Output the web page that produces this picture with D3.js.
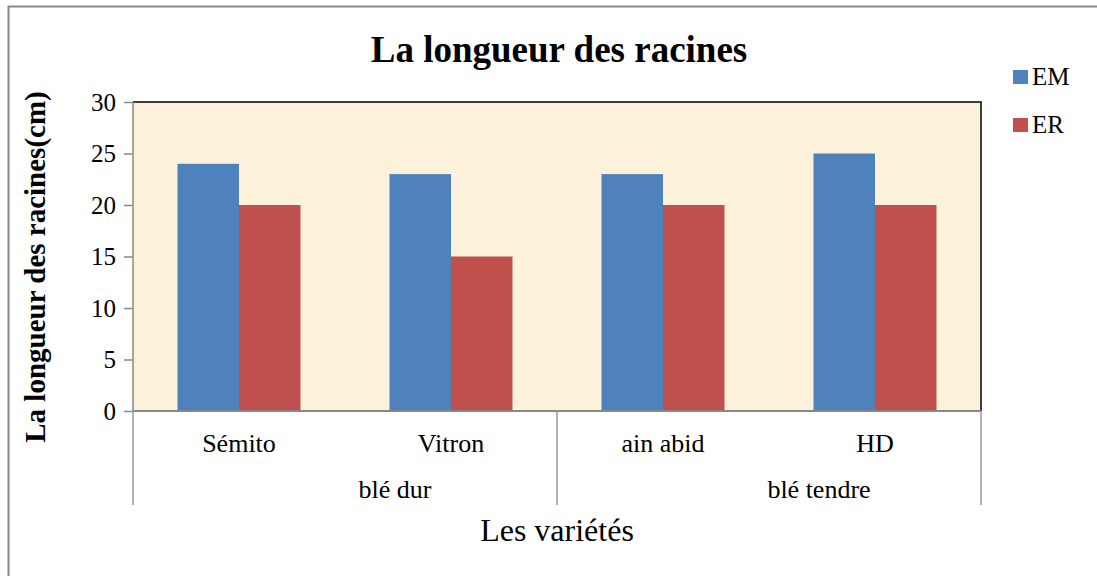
<!DOCTYPE html>
<html lang="fr">
<head>
  <meta charset="UTF-8">
  <title>La longueur des racines</title>
  <script src="https://d3js.org/d3.v7.min.js"></script>
  <style>
    body { margin: 0; background: #fff; }
    svg text { font-family: "Liberation Serif", "Times New Roman", serif; fill: #000; }
  </style>
</head>
<body>
  <div id="chart"></div>
  <script>
    const varietes = ["Sémito", "Vitron", "ain abid", "HD"];
    const groupes = ["blé dur", "blé dur", "blé tendre", "blé tendre"];
    const series = ["EM", "ER"];
    const emValues = [24, 23, 23, 25];
    const erValues = [20, 15, 20, 20];
    const yTicks = [0, 5, 10, 15, 20, 25, 30];
    const colors = ["#4f81bd", "#c0504d"];

    const W = 1097, H = 576;
    const plot = { left: 133, top: 102, right: 981, bottom: 411 };

    const svg = d3.select("#chart").append("svg")
      .attr("width", W).attr("height", H);

    // outer frame (right/bottom edges fall outside the picture)
    svg.append("rect")
      .attr("x", 8.5).attr("y", 6.5)
      .attr("width", W + 20).attr("height", H + 20)
      .attr("fill", "#fff").attr("stroke", "#888").attr("stroke-width", 2);

    const x0 = d3.scaleBand().domain(varietes)
      .range([plot.left, plot.right]).paddingInner(0.42).paddingOuter(0.21);
    const x1 = d3.scaleBand().domain(series).range([0, x0.bandwidth()]);
    const y = d3.scaleLinear().domain([0, 30]).range([plot.bottom, plot.top]);

    // plot background
    svg.append("rect")
      .attr("x", plot.left).attr("y", plot.top)
      .attr("width", plot.right - plot.left).attr("height", plot.bottom - plot.top)
      .attr("fill", "#fcf1da");

    const rows = varietes.map((v, i) => ({ v, vals: [emValues[i], erValues[i]] }));

    svg.selectAll(".grp").data(rows).enter().append("g")
      .attr("transform", d => `translate(${x0(d.v)},0)`)
      .selectAll("rect").data(d => d.vals.map((val, j) => ({ s: series[j], val, j })))
      .enter().append("rect")
      .attr("x", d => x1(d.s))
      .attr("y", d => y(d.val))
      .attr("width", x1.bandwidth())
      .attr("height", d => y(0) - y(d.val))
      .attr("fill", d => colors[d.j]);

    // top and right plot border
    svg.append("path")
      .attr("d", `M${plot.left},${plot.top}H${plot.right}V${plot.bottom}`)
      .attr("fill", "none").attr("stroke", "#000").attr("stroke-width", 1.5);

    // y axis
    const yAxis = svg.append("g")
      .attr("transform", `translate(${plot.left},0)`)
      .call(d3.axisLeft(y).tickValues(yTicks).tickSize(9).tickPadding(8));
    yAxis.attr("font-family", null).attr("font-size", 25);
    yAxis.selectAll("line, path").attr("stroke", "#888").attr("stroke-width", 1.5);
    yAxis.select(".domain").attr("d", `M0,${plot.top}V${plot.bottom}`);

    // x axis line
    svg.append("line")
      .attr("x1", plot.left).attr("x2", plot.right)
      .attr("y1", plot.bottom).attr("y2", plot.bottom)
      .attr("stroke", "#888").attr("stroke-width", 2);

    // category labels
    svg.selectAll(".cat").data(varietes).enter().append("text")
      .attr("x", d => x0(d) + x0.bandwidth() / 2)
      .attr("y", 452)
      .attr("text-anchor", "middle")
      .attr("font-size", 26)
      .text(d => d);

    // group labels and separators
    const groupNames = Array.from(new Set(groupes));
    const groupSpans = groupNames.map(g => {
      const idx = groupes.map((d, i) => d === g ? i : -1).filter(i => i >= 0);
      const step = x0.step();
      const start = plot.left + idx[0] * step;
      const end = plot.left + (idx[idx.length - 1] + 1) * step;
      return { g, start, end };
    });
    // group labels sit a little right of their span centre, as in the original
    const groupLabelShift = 50;
    svg.selectAll(".grplabel").data(groupSpans).enter().append("text")
      .attr("x", d => (d.start + d.end) / 2 + groupLabelShift)
      .attr("y", 498)
      .attr("text-anchor", "middle")
      .attr("font-size", 26)
      .text(d => d.g);

    const seps = [plot.left].concat(groupSpans.map(d => d.end));
    svg.selectAll(".sep").data(seps).enter().append("line")
      .attr("x1", d => d).attr("x2", d => d)
      .attr("y1", plot.bottom).attr("y2", 505)
      .attr("stroke", "#999").attr("stroke-width", 1.5);

    // title
    svg.append("text")
      .attr("x", 559).attr("y", 62)
      .attr("text-anchor", "middle")
      .attr("font-size", 37).attr("font-weight", "bold")
      .text("La longueur des racines");

    // axis titles
    svg.append("text")
      .attr("x", 557).attr("y", 541)
      .attr("text-anchor", "middle")
      .attr("font-size", 32)
      .text("Les variétés");

    svg.append("text")
      .attr("transform", "rotate(-90)")
      .attr("x", -267).attr("y", 45)
      .attr("text-anchor", "middle")
      .attr("font-size", 29).attr("font-weight", "bold")
      .text("La longueur des racines(cm)");

    // legend
    const legend = svg.selectAll(".leg").data(series).enter().append("g")
      .attr("transform", (d, i) => `translate(1013,${70 + i * 48})`);
    legend.append("rect")
      .attr("width", 15).attr("height", 14)
      .attr("fill", (d, i) => colors[i]);
    legend.append("text")
      .attr("x", 19).attr("y", 15)
      .attr("font-size", 25)
      .text(d => d);
  </script>
</body>
</html>
